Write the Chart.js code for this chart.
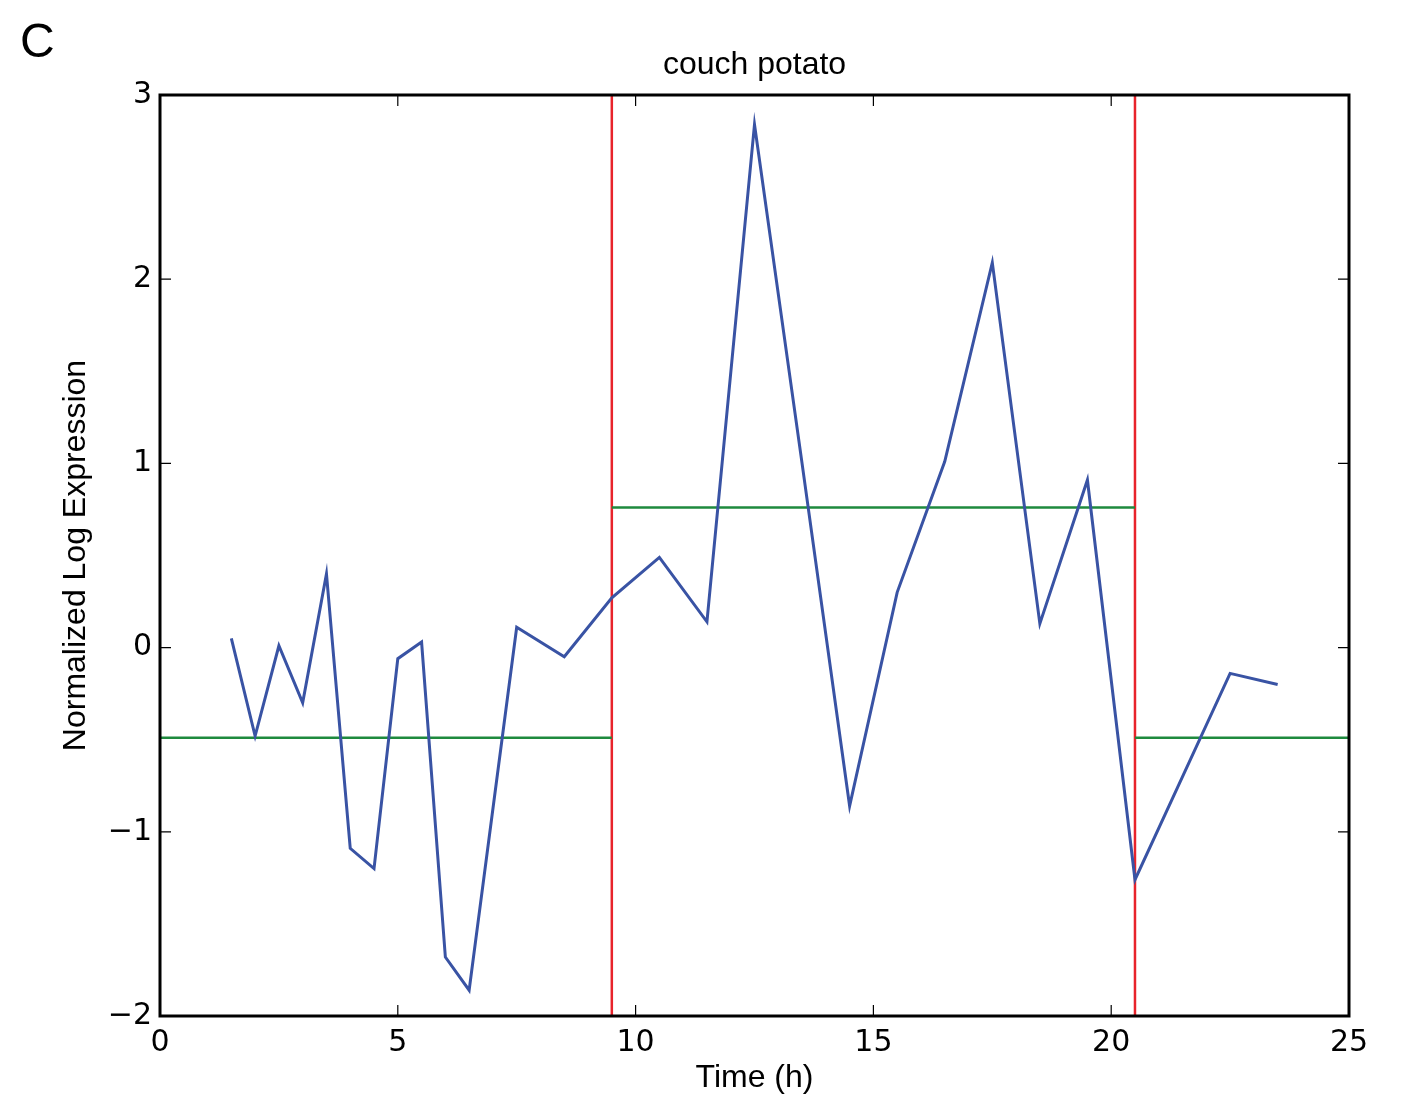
<!DOCTYPE html>
<html>
<head>
<meta charset="utf-8">
<script src="https://cdn.jsdelivr.net/npm/chart.js@4"></script>
<style>
  html, body { margin: 0; padding: 0; background: #fff; }
  #wrap { width: 1403px; height: 1099px; }
</style>
</head>
<body>
<div id="wrap"><canvas id="chart" width="1403" height="1099"></canvas></div>
<script>
// time points (h) and normalized log expression
const times = [1.5, 2, 2.5, 3, 3.5, 4, 4.5, 5, 5.5, 6, 6.5, 7.5, 8.5, 9.5, 10.5, 11.5,
  12.5, 13.5, 14.5, 15.5, 16.5, 17.5, 18.5, 19.5, 20.5, 21.5, 22.5, 23.5];
const expression = [0.05, -0.48, 0.01, -0.30, 0.40, -1.09, -1.20, -0.06, 0.03, -1.68, -1.86, 0.11,
  -0.05, 0.27, 0.49, 0.14, 2.84, 1.0, -0.86, 0.30, 1.01, 2.09, 0.13, 0.91, -1.26, -0.70, -0.14, -0.20];

// segment boundaries and segment means
const breakpoints = [9.5, 20.5];
const segmentEdges = [0, 9.5, 20.5, 25];
const segmentMeans = [-0.49, 0.76, -0.49];

const xTicks = [0, 5, 10, 15, 20, 25];
const yTicks = [-2, -1, 0, 1, 2, 3];

const datasets = [];

datasets.push({
  data: times.map((t, i) => ({ x: t, y: expression[i] })),
  borderColor: '#3953a4',
  borderWidth: 3,
  pointRadius: 0,
  tension: 0
});

segmentMeans.forEach((m, i) => {
  datasets.push({
    data: [{ x: segmentEdges[i], y: m }, { x: segmentEdges[i + 1], y: m }],
    borderColor: '#1e8a3e',
    borderWidth: 2.5,
    pointRadius: 0
  });
});

breakpoints.forEach(b => {
  datasets.push({
    data: [{ x: b, y: yTicks[0] }, { x: b, y: yTicks[yTicks.length - 1] }],
    borderColor: '#e8232b',
    borderWidth: 2.5,
    pointRadius: 0
  });
});

// matplotlib style frame with inward ticks on all sides, plus the panel letter
const frameTicks = {
  id: 'frameTicks',
  afterDraw(chart) {
    const ctx = chart.ctx;
    const { left, right, top, bottom } = chart.chartArea;
    const x = chart.scales.x, y = chart.scales.y;
    ctx.save();
    ctx.strokeStyle = '#000';
    ctx.lineWidth = 1.2;
    xTicks.forEach(v => {
      const px = x.getPixelForValue(v);
      ctx.beginPath();
      ctx.moveTo(px, bottom); ctx.lineTo(px, bottom - 11);
      ctx.moveTo(px, top); ctx.lineTo(px, top + 11);
      ctx.stroke();
    });
    yTicks.forEach(v => {
      const py = y.getPixelForValue(v);
      ctx.beginPath();
      ctx.moveTo(left, py); ctx.lineTo(left + 11, py);
      ctx.moveTo(right, py); ctx.lineTo(right - 11, py);
      ctx.stroke();
    });
    ctx.lineWidth = 3;
    ctx.strokeRect(left, top, right - left, bottom - top);

    ctx.fillStyle = '#000';
    ctx.font = '48px "Liberation Sans"';
    ctx.textBaseline = 'alphabetic';
    ctx.fillText('C', 20, 57);
    ctx.restore();
  }
};

const fmt = v => String(v).replace('-', '\u2212');

new Chart(document.getElementById('chart'), {
  type: 'line',
  data: { datasets: datasets },
  plugins: [frameTicks],
  options: {
    responsive: false,
    animation: false,
    layout: { padding: { left: 0, right: 54, top: 0, bottom: 0 } },
    plugins: {
      legend: { display: false },
      tooltip: { enabled: false },
      title: {
        display: true,
        text: 'couch potato',
        fullSize: false,
        color: '#000',
        font: { family: 'Liberation Sans', size: 32, weight: 'normal' },
        padding: { top: 46, bottom: 10.6 }
      }
    },
    scales: {
      x: {
        type: 'linear',
        min: 0,
        max: 25,
        grid: { display: false },
        border: { display: false },
        afterFit(scale) { scale.height = 83; },
        afterBuildTicks(scale) { scale.ticks = xTicks.map(v => ({ value: v })); },
        ticks: {
          color: '#000',
          padding: 1,
          maxRotation: 0,
          font: { family: 'DejaVu Sans', size: 30 },
          callback: fmt
        },
        title: {
          display: true,
          text: 'Time (h)',
          color: '#000',
          font: { family: 'Liberation Sans', size: 32 },
          padding: { top: 0, bottom: 2 }
        }
      },
      y: {
        type: 'linear',
        min: -2,
        max: 3,
        grid: { display: false },
        border: { display: false },
        afterFit(scale) { scale.width = 160; },
        afterBuildTicks(scale) { scale.ticks = yTicks.map(v => ({ value: v })); },
        ticks: {
          color: '#000',
          padding: 0,
          font: { family: 'DejaVu Sans', size: 30 },
          callback: fmt
        },
        title: {
          display: true,
          text: 'Normalized Log Expression',
          color: '#000',
          font: { family: 'Liberation Sans', size: 32 },
          padding: { top: 57, bottom: 0 }
        }
      }
    }
  }
});
</script>
</body>
</html>
